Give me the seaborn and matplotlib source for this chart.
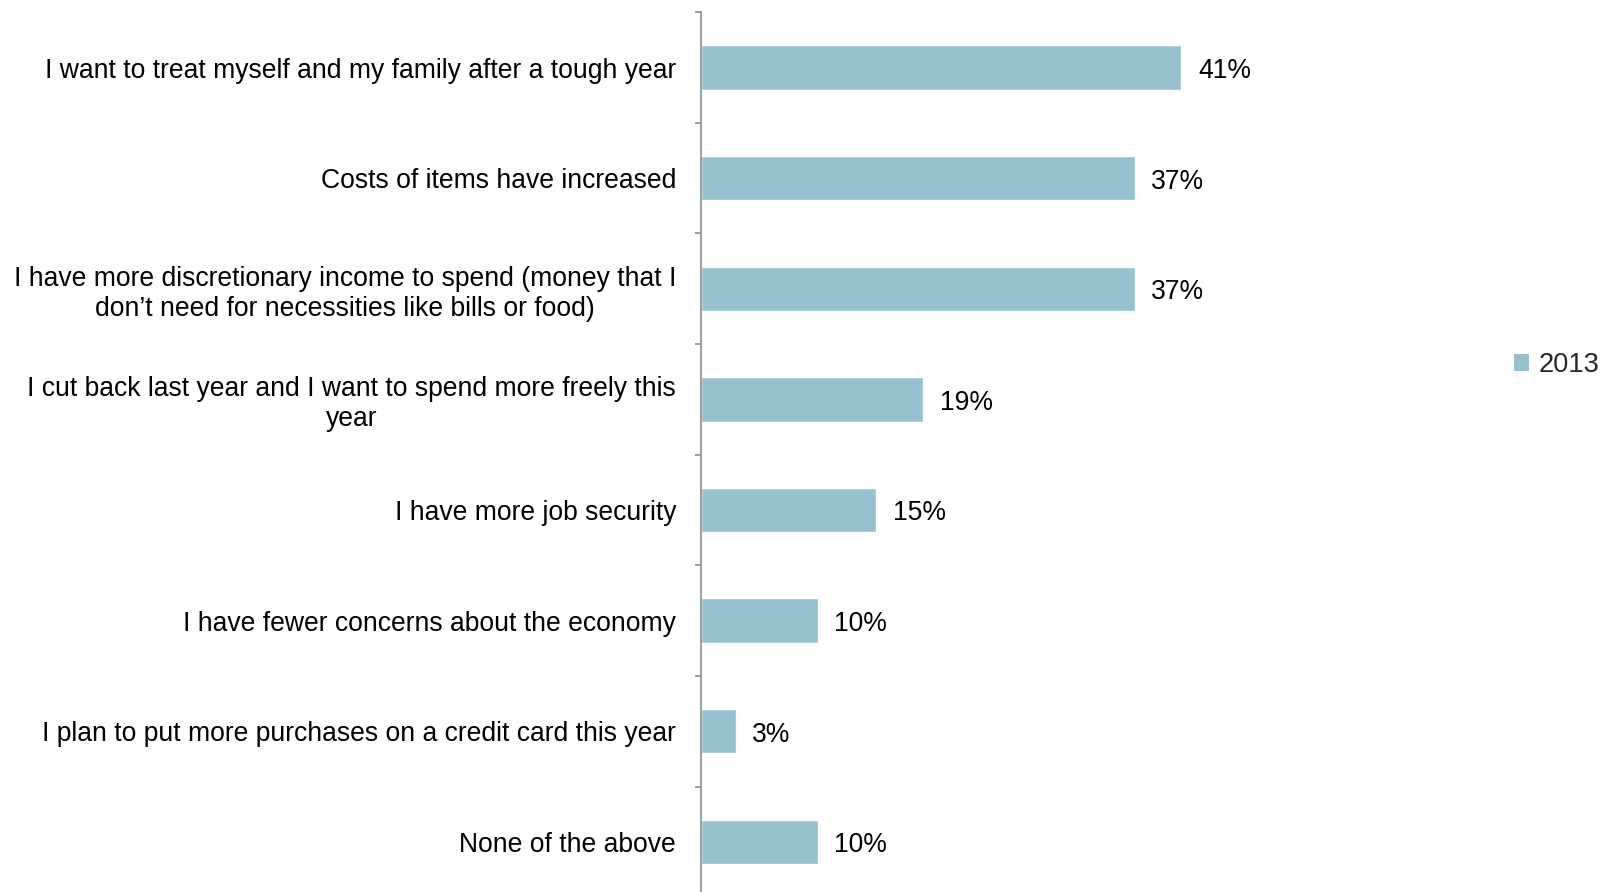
import matplotlib
matplotlib.use("Agg")
import matplotlib.pyplot as plt
import numpy as np
import pandas as pd
import seaborn as sns
from matplotlib.patches import Patch

categories = [
    "I want to treat myself and my family after a tough year",
    "Costs of items have increased",
    "I have more discretionary income to spend (money that I\ndon\u2019t need for necessities like bills or food)",
    "I cut back last year and I want to spend more freely this\nyear",
    "I have more job security",
    "I have fewer concerns about the economy",
    "I plan to put more purchases on a credit card this year",
    "None of the above",
]
values_2013 = [41, 37, 37, 19, 15, 10, 3, 10]
series_name = "2013"

bar_color = "#97C1CE"
axis_color = "#8C8C8C"

sns.set_style("white")
plt.rcParams["font.family"] = ["Liberation Sans", "DejaVu Sans"]

W, H, DPI = 1601, 892, 100
fig = plt.figure(figsize=(W / DPI, H / DPI), dpi=DPI)

# axes placement in pixels
ax_left_px, ax_top_px = 700.5, 12.3
px_per_pct = 11.73
xmax = 50
band_px = 110.6
ax = fig.add_axes([ax_left_px / W, 0.0,
                   xmax * px_per_pct / W, (H - ax_top_px) / H])

df = pd.DataFrame({"reason": categories, "share": values_2013})
sns.barplot(data=df, y="reason", x="share", orient="h", color=bar_color,
            width=0.4, saturation=1, ax=ax)

n_bands = (H - ax_top_px) / band_px
ax.set_ylim(-0.5 + n_bands, -0.5)
ax.set_xlim(0, xmax)

for s in ["top", "right", "bottom"]:
    ax.spines[s].set_visible(False)
ax.spines["left"].set_color(axis_color)
ax.spines["left"].set_linewidth(1.2)

ax.set_xlabel("")
ax.set_ylabel("")
ax.set_xticks([])

fs = 19.1
ax.set_yticks(range(len(categories)))
ax.set_yticklabels(categories, fontsize=fs, color="black",
                   multialignment="center", linespacing=1.2)
ax.tick_params(axis="y", which="major", left=False, length=0, pad=17.6)
ax.set_yticks(np.arange(-0.5, len(categories) - 0.5, 1.0), minor=True)
ax.tick_params(axis="y", which="minor", left=True, length=4.3, width=1.2,
               color=axis_color, direction="out")

# value labels just past the end of each bar
for patch, v in zip(ax.containers[0], values_2013):
    yc = patch.get_y() + patch.get_height() / 2
    ax.annotate(f"{v}%", xy=(v, yc), xytext=(11.9, -2.4),
                textcoords="offset points", ha="left", va="center",
                fontsize=fs, color="black")

leg_handle = Patch(facecolor=bar_color, edgecolor="none")
fig.legend([leg_handle], [series_name], loc="center left",
           bbox_to_anchor=(1514 / W, 1 - 365 / H), frameon=False,
           fontsize=fs + 0.5, handlelength=0.55, handleheight=0.55,
           handletextpad=0.35, borderpad=0, borderaxespad=0)

fig.savefig("out.png", dpi=DPI)
